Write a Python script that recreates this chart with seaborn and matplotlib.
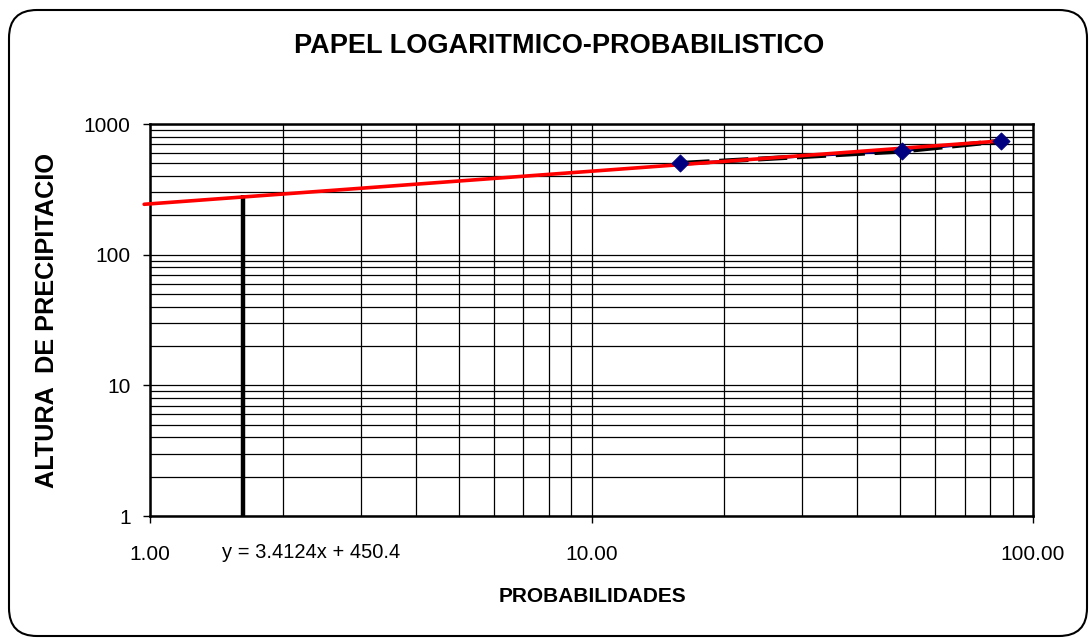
import matplotlib
matplotlib.use("Agg")
import matplotlib.pyplot as plt
import matplotlib.patches as mpatches
from matplotlib.ticker import LogLocator, FixedLocator, NullFormatter
import seaborn as sns
import pandas as pd

# data
prob = [15.9, 50.5, 84.5]
altura = [500, 620, 740]
trend_x = [0.97, 86.0]
trend_y = [243, 745]
vline_x = [1.62, 1.62]
vline_y = [1, 284]
x_ticks = [1, 10, 100]
x_labels = ["1.00", "10.00", "100.00"]
y_ticks = [1, 10, 100, 1000]
y_labels = ["1", "10", "100", "1000"]
equation = "y = 3.4124x + 450.4"

sns.set_style("white")
plt.rcParams["font.family"] = ["Liberation Sans", "DejaVu Sans"]
plt.rcParams["text.color"] = "black"

df = pd.DataFrame({"prob": prob, "altura": altura})

fig = plt.figure(figsize=(10.9, 6.38), dpi=100)
ax = fig.add_axes([150 / 1090, 1 - 516 / 638, 883 / 1090, 392 / 638])
ax.set_xscale("log")
ax.set_yscale("log")
ax.set_xlim(1, 100)
ax.set_ylim(1, 1000)

# grid on log paper
ax.xaxis.set_minor_locator(LogLocator(base=10, subs=range(2, 10)))
ax.yaxis.set_minor_locator(LogLocator(base=10, subs=range(2, 10)))
ax.xaxis.set_minor_formatter(NullFormatter())
ax.yaxis.set_minor_formatter(NullFormatter())
ax.grid(True, which="both", color="black", linewidth=0.9)
ax.set_axisbelow(True)

# black vertical marker line
ax.plot(vline_x, vline_y, color="black", linewidth=3.2, solid_capstyle="butt", zorder=3)

# black dashed line under the points
sns.lineplot(data=df, x="prob", y="altura", ax=ax, color="black", linewidth=3.5,
             linestyle=(0, (6, 2)), zorder=4)
sns.lineplot(data=df, x="prob", y="altura", ax=ax, color="navy", linewidth=1.5, zorder=3)
sns.scatterplot(data=df, x="prob", y="altura", ax=ax, marker="D", s=75,
                color="navy", edgecolor="navy", zorder=6)

# red trend line
ax.plot(trend_x, trend_y, color="red", linewidth=2.6, zorder=5, clip_on=False)

ax.xaxis.set_major_locator(FixedLocator(x_ticks))
ax.yaxis.set_major_locator(FixedLocator(y_ticks))
ax.set_xticklabels(x_labels)
ax.set_yticklabels(y_labels)
ax.tick_params(which="major", direction="out", length=5, width=1, color="black",
               labelsize=15, labelcolor="black", bottom=True, left=True)
ax.tick_params(axis="y", pad=9)
ax.tick_params(axis="x", pad=16)
ax.tick_params(which="minor", length=0)
for sp in ax.spines.values():
    sp.set_color("black")
    sp.set_linewidth(1.8)

ax.set_xlabel("")
ax.set_ylabel("")

fig.text(559 / 1090, 1 - 46 / 638, "PAPEL LOGARITMICO-PROBABILISTICO", ha="center",
         va="center", fontsize=19.5, fontweight="bold", color="black")
fig.text(47 / 1090, 1 - 321 / 638, "ALTURA  DE PRECIPITACIO", ha="center", va="center",
         rotation=90, fontsize=18.2, fontweight="bold", color="black")
fig.text(592 / 1090, 1 - 596 / 638, "PROBABILIDADES", ha="center", va="center",
         fontsize=15, fontweight="bold", color="black")
fig.text(222 / 1090, 1 - 553 / 638, equation, ha="left", va="center", fontsize=14.5,
         color="black")

frame = mpatches.FancyBboxPatch((9, 2), 1078, 626, boxstyle="round,pad=0,rounding_size=28",
                                transform=None, facecolor="none", edgecolor="black",
                                linewidth=1.5)
fig.patches.append(frame)

fig.savefig("out.png", dpi=100)
